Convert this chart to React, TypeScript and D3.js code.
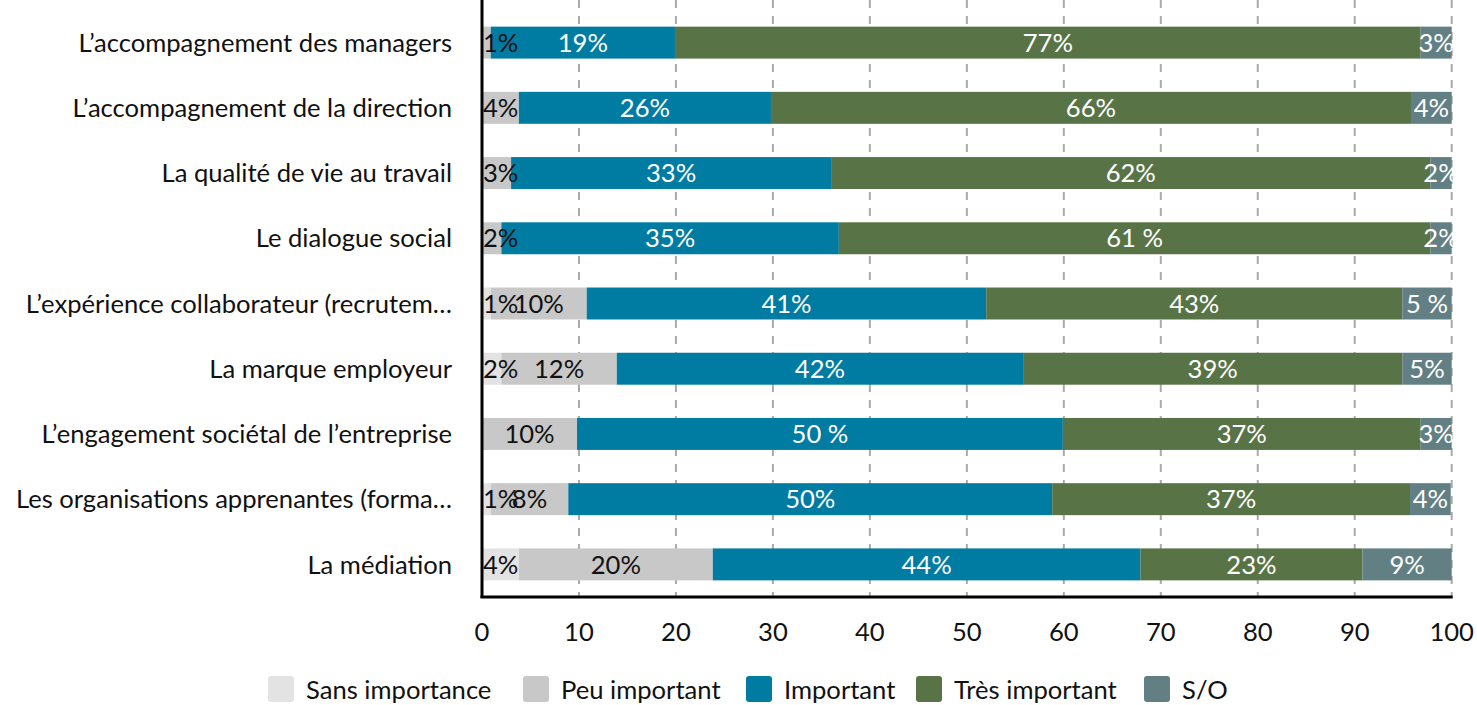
import React, { useEffect, useRef } from "react";
import * as d3 from "d3";

const categories = [
  "L’accompagnement des managers",
  "L’accompagnement de la direction",
  "La qualité de vie au travail",
  "Le dialogue social",
  "L’expérience collaborateur (recrutem…",
  "La marque employeur",
  "L’engagement sociétal de l’entreprise",
  "Les organisations apprenantes (forma…",
  "La médiation",
];

const seriesNames = ["Sans importance", "Peu important", "Important", "Très important", "S/O"];
const seriesColors = ["#e3e3e3", "#c8c8c8", "#007ca3", "#587446", "#627f83"];
const seriesTextColors = ["#111", "#111", "#fff", "#fff", "#fff"];

const sansImportance = [0, 0, 0, 0, 0.9, 2.0, 0, 0.9, 3.8];
const peuImportant = [0.9, 3.8, 3.0, 2.0, 9.9, 11.9, 9.8, 8.0, 20.0];
const important = [19.0, 26.0, 33.0, 34.8, 41.2, 41.9, 50.1, 49.9, 44.1];
const tresImportant = [76.9, 66.0, 61.8, 61.0, 42.9, 39.1, 36.9, 36.9, 22.9];
const sansObjet = [3.2, 4.2, 2.2, 2.2, 5.1, 5.1, 3.2, 4.2, 9.2];

const sansLabels = ["", "", "", "", "1%", "2%", "", "1%", "4%"];
const peuLabels = ["1%", "4%", "3%", "2%", "10%", "12%", "10%", "8%", "20%"];
const importantLabels = ["19%", "26%", "33%", "35%", "41%", "42%", "50 %", "50%", "44%"];
const tresLabels = ["77%", "66%", "62%", "61 %", "43%", "39%", "37%", "37%", "23%"];
const soLabels = ["3%", "4%", "2%", "2%", "5 %", "5%", "3%", "4%", "9%"];

const xTicks = [0, 10, 20, 30, 40, 50, 60, 70, 80, 90, 100];

const W = 1477;
const H = 705;
const FONT = "Lato, 'Open Sans', sans-serif";
const FS = 25.6;
const LEGEND_X = [268, 523, 746, 916, 1144];

export default function App() {
  const ref = useRef<SVGSVGElement | null>(null);

  useEffect(() => {
    const svg = d3.select(ref.current);
    svg.selectAll("*").remove();

    const left = 482;
    const right = 1451.7;
    const top = 10;
    const bottom = 597;

    const x = d3.scaleLinear().domain([0, 100]).range([left, right]);
    const y = d3.scaleBand<string>().domain(categories).range([top, bottom]).paddingInner(0.51).paddingOuter(0.255);

    const values = [sansImportance, peuImportant, important, tresImportant, sansObjet];
    const labels = [sansLabels, peuLabels, importantLabels, tresLabels, soLabels];

    svg.append("defs").append("clipPath").attr("id", "plotclip")
      .append("rect").attr("x", left).attr("y", 0).attr("width", right - left + 1).attr("height", bottom);

    // gridlines
    svg.append("g").selectAll("line").data(xTicks.filter((t) => t > 0)).join("line")
      .attr("x1", (d) => x(d)).attr("x2", (d) => x(d))
      .attr("y1", 0).attr("y2", bottom)
      .attr("stroke", "#aaaaaa").attr("stroke-width", 2).attr("stroke-dasharray", "8,8");

    // bars
    const barG = svg.append("g");
    const labelG = svg.append("g").attr("clip-path", "url(#plotclip)");
    categories.forEach((cat, i) => {
      let acc = 0;
      values.forEach((vals, s) => {
        const v = vals[i];
        const x0 = acc;
        acc += v;
        if (v <= 0) return;
        barG.append("rect")
          .attr("x", x(x0)).attr("width", x(x0 + v) - x(x0))
          .attr("y", y(cat)!).attr("height", y.bandwidth())
          .attr("fill", seriesColors[s]);
        const lab = labels[s][i];
        if (lab) {
          const t = labelG.append("text")
            .attr("y", y(cat)! + y.bandwidth() / 2)
            .attr("dy", "0.36em")
            .attr("font-family", FONT).attr("font-size", FS)
            .attr("fill", seriesTextColors[s])
            .text(lab);
          const w = (t.node() as SVGTextElement).getComputedTextLength();
          let cx = (x(x0) + x(x0 + v)) / 2 - w / 2;
          if (cx < left + 1) cx = left + 1;
          t.attr("x", cx);
        }
      });
    });

    // category labels
    svg.append("g").selectAll("text").data(categories).join("text")
      .attr("x", 452).attr("y", (d) => y(d)! + y.bandwidth() / 2)
      .attr("dy", "0.36em").attr("text-anchor", "end")
      .attr("font-family", FONT).attr("font-size", FS).attr("fill", "#111")
      .text((d) => d);

    // axes lines
    svg.append("line").attr("x1", left).attr("x2", left).attr("y1", 0).attr("y2", bottom + 1)
      .attr("stroke", "#000").attr("stroke-width", 3);
    svg.append("line").attr("x1", left - 1.5).attr("x2", right + 1).attr("y1", bottom).attr("y2", bottom)
      .attr("stroke", "#000").attr("stroke-width", 3);

    // tick labels
    svg.append("g").selectAll("text").data(xTicks).join("text")
      .attr("x", (d) => x(d)).attr("y", 632).attr("dy", "0.36em")
      .attr("text-anchor", "middle").attr("font-family", FONT).attr("font-size", FS).attr("fill", "#111")
      .text((d) => String(d));

    // legend
    const lg = svg.append("g");
    const sq = 26;
    const gapSqText = 12;
    seriesNames.forEach((name, s) => {
      const cur = LEGEND_X[s];
      const g = lg.append("g");
      g.append("rect").attr("x", cur).attr("y", 676).attr("width", sq).attr("height", sq)
        .attr("rx", 3).attr("fill", seriesColors[s]);
      g.append("text").attr("x", cur + sq + gapSqText).attr("y", 690).attr("dy", "0.36em")
        .attr("font-family", FONT).attr("font-size", FS).attr("fill", "#111").text(name);
    });
  }, []);

  return (
    <svg
      ref={ref}
      width={W}
      height={H}
      style={{ position: "absolute", left: 0, top: 0, background: "#fff" }}
    />
  );
}
